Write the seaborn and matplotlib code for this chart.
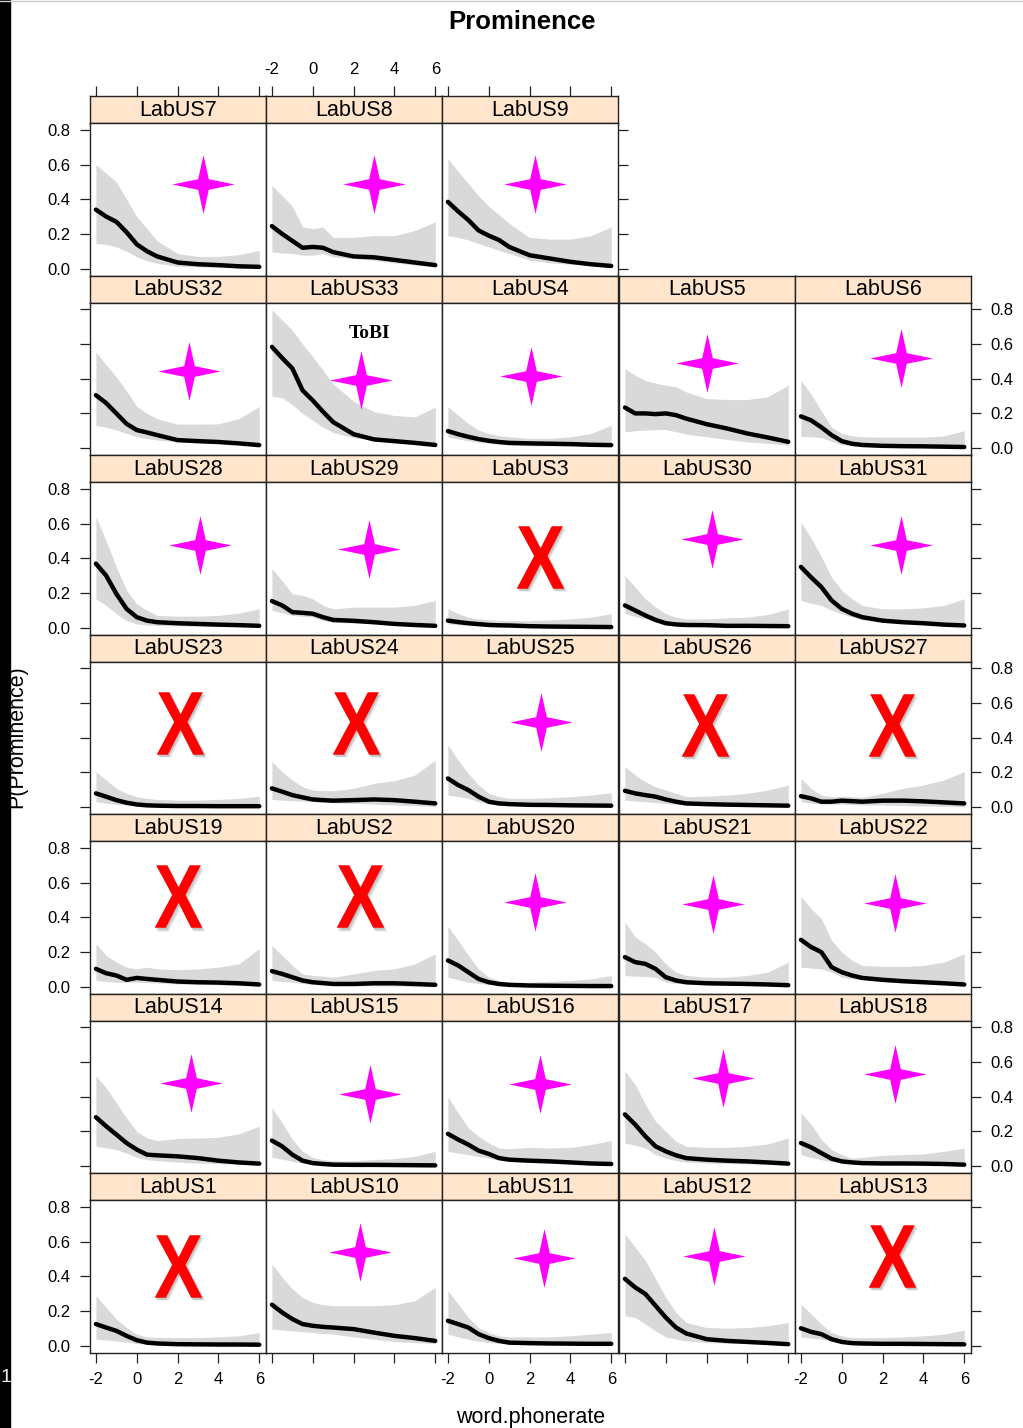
import numpy as np
import seaborn as sns
import matplotlib.pyplot as plt
import matplotlib.transforms as mtransforms
from matplotlib.path import Path
from matplotlib.textpath import TextPath
from matplotlib.font_manager import FontProperties

sns.set_style("white")
plt.rcParams['font.family'] = ['Liberation Sans', 'DejaVu Sans']
plt.rcParams['text.color'] = 'black'
plt.rcParams['xtick.color'] = 'black'
plt.rcParams['ytick.color'] = 'black'

# x positions of the fitted curve
phonerate = [-2, -1.5, -1, -0.5, 0, 0.5, 1, 2, 3, 4, 5, 6]

# fitted P(Prominence), lower and upper band for each lab
us7_fit = [.34, .30, .27, .21, .14, .10, .07, .035, .025, .02, .013, .01]
us7_lo = [.145, .14, .125, .10, .067, .045, .03, .013, .01, .007, .005, .004]
us7_hi = [.60, .55, .50, .40, .30, .23, .16, .086, .07, .07, .08, .105]

us8_fit = [.245, .20, .16, .12, .125, .12, .095, .07, .065, .05, .035, .02]
us8_lo = [.096, .09, .087, .077, .077, .087, .067, .058, .048, .033, .02, .01]
us8_hi = [.48, .42, .36, .24, .23, .24, .18, .18, .19, .19, .22, .27]

us9_fit = [.385, .33, .28, .22, .19, .165, .125, .077, .058, .039, .025, .015]
us9_lo = [.19, .18, .165, .145, .125, .105, .087, .048, .033, .025, .02, .013]
us9_hi = [.635, .56, .49, .42, .36, .31, .26, .18, .17, .17, .19, .24]

us32_fit = [.305, .26, .20, .14, .104, .09, .075, .046, .04, .035, .027, .017]
us32_lo = [.13, .12, .104, .085, .065, .055, .046, .036, .03, .027, .023, .017]
us32_hi = [.555, .48, .41, .33, .24, .20, .17, .138, .138, .14, .17, .24]

us33_fit = [.584, .52, .46, .333, .275, .21, .15, .08, .05, .04, .03, .018]
us33_lo = [.30, .29, .25, .20, .16, .12, .09, .06, .045, .035, .027, .02]
us33_hi = [.797, .74, .68, .60, .526, .45, .37, .27, .21, .188, .18, .236]

us4_fit = [.098, .08, .065, .052, .042, .035, .03, .027, .025, .023, .019, .017]
us4_lo = [.065, .052, .042, .033, .027, .021, .017, .013, .013, .012, .011, .01]
us4_hi = [.238, .19, .142, .104, .084, .072, .065, .056, .056, .065, .084, .132]

us5_fit = [.234, .20, .20, .196, .20, .19, .17, .138, .113, .084, .061, .036]
us5_lo = [.094, .10, .104, .106, .107, .094, .08, .065, .05, .036, .027, .017]
us5_hi = [.459, .42, .39, .375, .363, .353, .324, .286, .28, .28, .296, .363]

us6_fit = [.183, .16, .12, .075, .04, .025, .018, .013, .011, .01, .008, .006]
us6_lo = [.067, .065, .06, .04, .02, .012, .008, .005, .004, .004, .003, .003]
us6_hi = [.39, .31, .215, .12, .085, .07, .065, .063, .063, .063, .07, .10]

us28_fit = [.369, .30, .195, .108, .06, .04, .031, .025, .021, .017, .014, .01]
us28_lo = [.166, .128, .08, .04, .021, .015, .012, .01, .008, .007, .006, .005]
us28_hi = [.64, .50, .35, .215, .137, .10, .07, .066, .066, .07, .083, .108]

us29_fit = [.153, .128, .089, .085, .08, .06, .044, .039, .031, .021, .015, .01]
us29_lo = [.099, .085, .07, .065, .06, .04, .031, .025, .021, .015, .012, .008]
us29_hi = [.34, .27, .195, .186, .166, .128, .108, .118, .118, .118, .128, .157]

us3_fit = [.04, .032, .025, .02, .015, .013, .012, .008, .006, .005, .004, .003]
us3_lo = [.021, .016, .012, .01, .008, .006, .005, .004, .004, .003, .003, .003]
us3_hi = [.108, .08, .06, .05, .044, .042, .04, .04, .044, .05, .06, .08]

us30_fit = [.128, .099, .07, .044, .025, .018, .015, .014, .01, .01, .009, .008]
us30_lo = [.08, .065, .05, .035, .025, .018, .015, .012, .01, .008, .007, .006]
us30_hi = [.30, .234, .166, .118, .08, .06, .05, .05, .056, .06, .075, .108]

us31_fit = [.35, .29, .234, .157, .108, .08, .06, .04, .031, .025, .017, .012]
us31_lo = [.157, .14, .128, .10, .08, .06, .044, .031, .025, .021, .015, .01]
us31_hi = [.61, .515, .41, .29, .215, .166, .128, .108, .108, .114, .128, .166]

us23_fit = [.079, .06, .04, .025, .015, .01, .008, .006, .006, .005, .005, .005]
us23_lo = [.031, .022, .016, .012, .01, .008, .006, .005, .004, .004, .004, .004]
us23_hi = [.204, .156, .108, .079, .06, .05, .044, .04, .04, .044, .05, .063]

us24_fit = [.108, .089, .069, .056, .044, .04, .037, .04, .044, .04, .031, .021]
us24_lo = [.044, .04, .037, .034, .031, .028, .025, .021, .017, .012, .008, .004]
us24_hi = [.262, .204, .156, .117, .098, .095, .094, .108, .137, .152, .185, .27]

us25_fit = [.165, .127, .098, .06, .031, .021, .017, .013, .012, .01, .009, .008]
us25_lo = [.069, .06, .05, .031, .017, .012, .01, .008, .007, .006, .006, .005]
us25_hi = [.358, .271, .194, .127, .079, .06, .05, .05, .054, .06, .069, .083]

us26_fit = [.094, .079, .069, .06, .044, .031, .021, .017, .014, .012, .01, .008]
us26_lo = [.04, .035, .031, .026, .021, .016, .012, .008, .006, .005, .004, .003]
us26_hi = [.233, .185, .146, .117, .098, .079, .06, .063, .069, .079, .098, .127]

us27_fit = [.063, .05, .031, .031, .037, .034, .031, .037, .037, .033, .027, .021]
us27_lo = [.031, .022, .017, .017, .017, .015, .012, .012, .008, .006, .004, .002]
us27_hi = [.165, .108, .069, .06, .063, .06, .056, .079, .108, .127, .156, .204]

us19_fit = [.102, .077, .064, .039, .05, .044, .039, .029, .025, .023, .019, .012]
us19_lo = [.035, .03, .025, .025, .025, .023, .021, .015, .012, .01, .006, .004]
us19_hi = [.247, .18, .141, .112, .102, .112, .102, .097, .102, .112, .131, .218]

us2_fit = [.089, .073, .054, .035, .025, .02, .015, .015, .019, .019, .015, .01]
us2_lo = [.035, .03, .025, .018, .012, .009, .006, .005, .004, .003, .002, .002]
us2_hi = [.238, .18, .122, .073, .064, .06, .054, .073, .093, .102, .131, .189]

us20_fit = [.151, .122, .083, .044, .025, .015, .01, .006, .005, .004, .003, .003]
us20_lo = [.054, .04, .025, .018, .012, .008, .006, .005, .004, .003, .003, .002]
us20_hi = [.348, .267, .18, .102, .054, .035, .025, .025, .031, .035, .044, .064]

us21_fit = [.17, .141, .131, .102, .054, .035, .025, .019, .017, .015, .012, .008]
us21_lo = [.064, .06, .058, .054, .025, .018, .015, .012, .01, .008, .007, .006]
us21_hi = [.373, .286, .247, .199, .131, .083, .064, .054, .054, .064, .083, .141]

us22_fit = [.27, .228, .199, .112, .083, .064, .05, .039, .031, .025, .019, .012]
us22_lo = [.112, .107, .102, .083, .054, .044, .039, .029, .023, .019, .014, .008]
us22_hi = [.518, .45, .392, .267, .199, .151, .122, .116, .116, .122, .141, .189]

us14_fit = [.282, .23, .182, .133, .095, .066, .062, .056, .046, .031, .021, .014]
us14_lo = [.114, .105, .095, .075, .05, .037, .031, .023, .017, .014, .01, .008]
us14_hi = [.52, .452, .365, .278, .20, .162, .147, .159, .162, .166, .186, .23]

us15_fit = [.147, .114, .066, .031, .017, .012, .008, .007, .007, .006, .005, .004]
us15_lo = [.05, .04, .027, .018, .012, .008, .005, .004, .004, .003, .003, .003]
us15_hi = [.336, .249, .153, .085, .05, .037, .031, .031, .037, .043, .056, .085]

us16_fit = [.186, .153, .124, .089, .07, .046, .037, .031, .027, .021, .015, .012]
us16_lo = [.085, .075, .066, .055, .046, .035, .027, .021, .017, .014, .01, .008]
us16_hi = [.398, .307, .22, .172, .133, .104, .10, .108, .104, .108, .124, .147]

us17_fit = [.298, .24, .172, .114, .085, .062, .046, .037, .031, .027, .021, .014]
us17_lo = [.133, .12, .104, .066, .046, .031, .023, .017, .014, .012, .01, .008]
us17_hi = [.549, .471, .355, .259, .20, .143, .114, .108, .108, .114, .128, .162]

us18_fit = [.133, .108, .075, .043, .027, .021, .017, .015, .015, .014, .012, .008]
us18_lo = [.066, .05, .037, .025, .017, .014, .012, .01, .008, .007, .006, .005]
us18_hi = [.307, .24, .153, .095, .066, .046, .05, .062, .066, .07, .085, .104]

us1_fit = [.124, .104, .085, .056, .031, .017, .012, .008, .007, .006, .006, .005]
us1_lo = [.037, .032, .027, .02, .012, .008, .006, .005, .005, .004, .004, .004]
us1_hi = [.288, .22, .153, .104, .066, .05, .046, .046, .046, .05, .056, .075]

us10_fit = [.236, .191, .153, .124, .114, .108, .104, .095, .075, .056, .043, .027]
us10_lo = [.095, .09, .085, .08, .075, .07, .066, .05, .037, .023, .017, .012]
us10_hi = [.471, .394, .327, .278, .249, .236, .23, .23, .23, .236, .259, .336]

us11_fit = [.143, .124, .104, .066, .043, .027, .017, .014, .012, .011, .01, .01]
us11_lo = [.066, .05, .037, .025, .017, .012, .01, .008, .007, .006, .006, .005]
us11_hi = [.317, .24, .162, .104, .075, .056, .05, .05, .05, .056, .066, .075]

us12_fit = [.385, .336, .298, .23, .162, .104, .07, .037, .027, .021, .015, .008]
us12_lo = [.172, .162, .124, .085, .05, .037, .027, .017, .014, .012, .008, .006]
us12_hi = [.645, .568, .491, .385, .278, .191, .133, .104, .10, .104, .114, .133]

us13_fit = [.10, .079, .066, .037, .021, .014, .012, .01, .01, .009, .008, .007]
us13_lo = [.05, .043, .037, .025, .017, .012, .009, .008, .007, .006, .005, .005]
us13_hi = [.24, .182, .124, .075, .056, .046, .046, .046, .05, .056, .066, .089]

# panel layout, top row first
panel_rows = [
    ["LabUS7", "LabUS8", "LabUS9"],
    ["LabUS32", "LabUS33", "LabUS4", "LabUS5", "LabUS6"],
    ["LabUS28", "LabUS29", "LabUS3", "LabUS30", "LabUS31"],
    ["LabUS23", "LabUS24", "LabUS25", "LabUS26", "LabUS27"],
    ["LabUS19", "LabUS2", "LabUS20", "LabUS21", "LabUS22"],
    ["LabUS14", "LabUS15", "LabUS16", "LabUS17", "LabUS18"],
    ["LabUS1", "LabUS10", "LabUS11", "LabUS12", "LabUS13"],
]
# star = prominent, x = not
mark_rows = [
    ["star", "star", "star"],
    ["star", "star", "star", "star", "star"],
    ["star", "star", "x", "star", "star"],
    ["x", "x", "star", "x", "x"],
    ["x", "x", "star", "star", "star"],
    ["star", "star", "star", "star", "star"],
    ["x", "star", "star", "star", "x"],
]
mark_x_rows = [
    [3.25, 3.0, 2.26],
    [2.56, 2.36, 2.07, 2.02, 2.9],
    [3.1, 2.75, 2.5, 2.26, 2.9],
    [2.12, 2.12, 2.56, 1.9, 2.46],
    [2.02, 2.31, 2.26, 2.31, 2.6],
    [2.66, 2.8, 2.5, 2.8, 2.6],
    [2.02, 2.31, 2.7, 2.36, 2.46],
]
mark_y_rows = [
    [.49, .49, .49],
    [.443, .39, .415, .49, .52],
    [.475, .452, .406, .51, .475],
    [.484, .484, .49, .472, .472],
    [.52, .52, .49, .475, .48],
    [.478, .415, .472, .507, .53],
    [.458, .54, .504, .516, .516],
]

curves = {
    "LabUS7": (us7_fit, us7_lo, us7_hi), "LabUS8": (us8_fit, us8_lo, us8_hi),
    "LabUS9": (us9_fit, us9_lo, us9_hi), "LabUS32": (us32_fit, us32_lo, us32_hi),
    "LabUS33": (us33_fit, us33_lo, us33_hi), "LabUS4": (us4_fit, us4_lo, us4_hi),
    "LabUS5": (us5_fit, us5_lo, us5_hi), "LabUS6": (us6_fit, us6_lo, us6_hi),
    "LabUS28": (us28_fit, us28_lo, us28_hi), "LabUS29": (us29_fit, us29_lo, us29_hi),
    "LabUS3": (us3_fit, us3_lo, us3_hi), "LabUS30": (us30_fit, us30_lo, us30_hi),
    "LabUS31": (us31_fit, us31_lo, us31_hi), "LabUS23": (us23_fit, us23_lo, us23_hi),
    "LabUS24": (us24_fit, us24_lo, us24_hi), "LabUS25": (us25_fit, us25_lo, us25_hi),
    "LabUS26": (us26_fit, us26_lo, us26_hi), "LabUS27": (us27_fit, us27_lo, us27_hi),
    "LabUS19": (us19_fit, us19_lo, us19_hi), "LabUS2": (us2_fit, us2_lo, us2_hi),
    "LabUS20": (us20_fit, us20_lo, us20_hi), "LabUS21": (us21_fit, us21_lo, us21_hi),
    "LabUS22": (us22_fit, us22_lo, us22_hi), "LabUS14": (us14_fit, us14_lo, us14_hi),
    "LabUS15": (us15_fit, us15_lo, us15_hi), "LabUS16": (us16_fit, us16_lo, us16_hi),
    "LabUS17": (us17_fit, us17_lo, us17_hi), "LabUS18": (us18_fit, us18_lo, us18_hi),
    "LabUS1": (us1_fit, us1_lo, us1_hi), "LabUS10": (us10_fit, us10_lo, us10_hi),
    "LabUS11": (us11_fit, us11_lo, us11_hi), "LabUS12": (us12_fit, us12_lo, us12_hi),
    "LabUS13": (us13_fit, us13_lo, us13_hi),
}

x_ticks = [-2, 0, 2, 4, 6]
x_ticklabels = ["-2", "0", "2", "4", "6"]
y_ticks = [0, 0.2, 0.4, 0.6, 0.8]
y_ticklabels = ["0.0", "0.2", "0.4", "0.6", "0.8"]

# markers: four point star and a heavy X
w = 0.17
star_v = [(0, .94), (w, w), (1, 0), (w, -w), (0, -.94), (-w, -w), (-1, 0), (-w, w), (0, .94)]
star_path = Path(star_v, closed=True)
tp = TextPath((0, 0), "X", size=1,
              prop=FontProperties(family=["Liberation Sans Narrow", "Liberation Sans"], weight="bold"))
ext = tp.get_extents()
xv = tp.vertices - [(ext.x0 + ext.x1) / 2, (ext.y0 + ext.y1) / 2]
xv[:, 0] *= (48 / 63) / (ext.width / ext.height)
x_path = Path(xv, tp.codes)

W, H = 1023, 1428
fig = plt.figure(figsize=(W / 100, H / 100), dpi=100)


def box(x0, y0, w_, h_):
    return [x0 / W, 1 - (y0 + h_) / H, w_ / W, h_ / H]


col_x = [90, 266, 442, 619, 795]
pw = 176.2
row_top = 96
row_step = 179.5
strip_h = 27
panel_h = row_step - strip_h
xlim = (-2.29, 6.34)
ylim = (-0.04, 0.84)
edge = "#222222"
tick_kw = dict(direction="out", length=7, width=0.9, color=edge, labelsize=12,
               pad=7, labelcolor="black")

for r, names in enumerate(panel_rows):
    for c, name in enumerate(names):
        y0 = row_top + r * row_step
        sax = fig.add_axes(box(col_x[c], y0, pw, strip_h))
        sax.set_facecolor("#ffe5cc")
        sax.set_xlim(xlim)
        sax.set_ylim(0, 1)
        sax.set_yticks([])
        sax.text(0.5, 0.48, name, transform=sax.transAxes, ha="center", va="center",
                 fontsize=15.5, color="black")
        ax = fig.add_axes(box(col_x[c], y0 + strip_h, pw, panel_h))
        for a in (sax, ax):
            for s in a.spines.values():
                s.set_color(edge)
                s.set_linewidth(1.0)

        fit, lo, hi = curves[name]
        ax.fill_between(phonerate, lo, hi, color="#d9d9d9", linewidth=0)
        sns.lineplot(x=phonerate, y=fit, ax=ax, color="black", linewidth=3.2,
                     solid_capstyle="round", solid_joinstyle="round")
        ax.set_xlim(xlim)
        ax.set_ylim(ylim)
        ax.set_xlabel("")
        ax.set_ylabel("")

        mx, my = mark_x_rows[r][c], mark_y_rows[r][c]
        if mark_rows[r][c] == "star":
            ax.plot([mx], [my], marker=star_path, markersize=45, color="#ff00ff",
                    markeredgewidth=0, linestyle="none")
        else:
            for k, (dx, al) in enumerate([(2.2, 0.12), (1.6, 0.18), (1.0, 0.22)]):
                shadow = mtransforms.offset_copy(ax.transData, fig=fig, x=dx, y=-dx, units="points")
                ax.plot([mx], [my], marker=x_path, markersize=45, color="#777777", alpha=al,
                        markeredgewidth=0, linestyle="none", transform=shadow)
            ax.plot([mx], [my], marker=x_path, markersize=45, color="#ff0000",
                    markeredgewidth=0, linestyle="none")
        if name == "LabUS33":
            ax.text(2.8, 0.66, "ToBI", ha="center", va="center", fontsize=14,
                    fontweight="bold", family=["Liberation Serif", "DejaVu Serif"])

        ax.set_xticks(x_ticks)
        ax.set_xticklabels(x_ticklabels)
        ax.set_yticks(y_ticks)
        ax.set_yticklabels(y_ticklabels)
        ax.tick_params(**tick_kw)
        ax.tick_params(left=False, right=False, bottom=False, top=False,
                       labelleft=False, labelright=False, labelbottom=False, labeltop=False)
        sax.set_xticks(x_ticks)
        sax.set_xticklabels(x_ticklabels)
        sax.tick_params(**tick_kw)
        sax.tick_params(left=False, right=False, bottom=False, top=False,
                        labelleft=False, labelright=False, labelbottom=False, labeltop=False)

        if c == 0:
            ax.tick_params(left=True, labelleft=(r % 2 == 0))
        if c == len(names) - 1:
            ax.tick_params(right=True, labelright=(r % 2 == 1))
        if r == len(panel_rows) - 1:
            ax.tick_params(bottom=True, labelbottom=(c % 2 == 0))
        if r == 0:
            sax.tick_params(top=True, labeltop=(c % 2 == 1))

# page furniture
fig.patches.append(plt.Rectangle((0, 0), 10 / W, 1, transform=fig.transFigure,
                                 color="black", zorder=0))
fig.add_artist(plt.Line2D([0, 1], [1 - 0.5 / H, 1 - 0.5 / H], color="#cccccc", lw=1))
fig.text(1 / W, 1 - 1378 / H, "1", color="#eeeeee", fontsize=14, ha="left", va="center")

fig.text(522 / W, 1 - 22 / H, "Prominence", ha="center", va="center",
         fontsize=18.5, fontweight="bold", color="black")
fig.text(531 / W, 1 - 1417 / H, "word.phonerate", ha="center", va="center",
         fontsize=15.5, color="black")
fig.text(17 / W, 1 - 737 / H, "P(Prominence)", ha="center", va="center",
         rotation=90, fontsize=15.5, color="black")

fig.savefig("out.png", dpi=100, facecolor="white")
